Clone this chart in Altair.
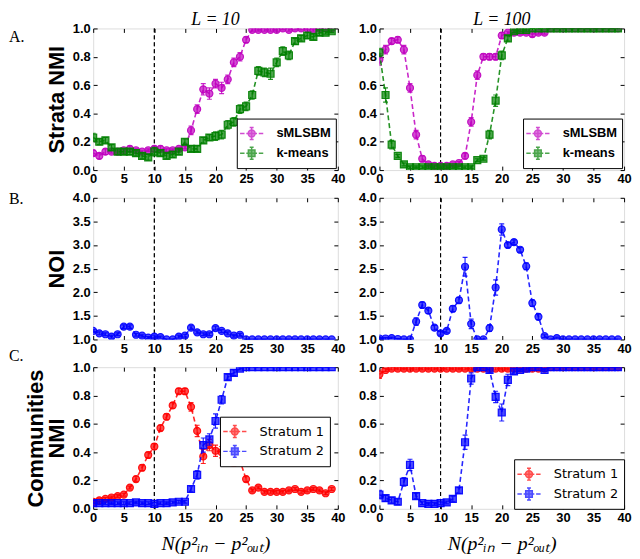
import altair as alt
import pandas as pd

# ---------------- data ----------------
x_vals = list(range(40))
x_ticks = [0, 5, 10, 15, 20, 25, 30, 35, 40]
nmi_ticks = [0.0, 0.2, 0.4, 0.6, 0.8, 1.0]
noi_ticks = [1.0, 1.5, 2.0, 2.5, 3.0, 3.5, 4.0]
threshold_x = 10

strata_names = ["sMLSBM", "k-means"]
comm_names = ["Stratum 1", "Stratum 2"]
col_titles = ["L = 10", "L = 100"]
row_labels = ["A.", "B.", "C."]
row_titles = ["Strata NMI", "NOI", ["Communities", "NMI"]]
x_title = "N(p²ᵢₙ − p²ₒᵤₜ)"

# A. strata NMI, L=10
a10_smlsbm = [0.12, 0.10, 0.13, 0.13, 0.13, 0.14, 0.15, 0.14, 0.13, 0.14,
              0.15, 0.15, 0.14, 0.14, 0.15, 0.16, 0.28, 0.43, 0.57, 0.54,
              0.61, 0.58, 0.64, 0.76, 0.80, 0.92, 0.99, 0.99, 0.99, 0.99,
              0.99, 1.00, 0.99, 1.00, 1.00, 1.00, 0.99, 1.00, 1.00, 1.00]
a10_smlsbm_err = [0.02, 0.02, 0.02, 0.01, 0.01, 0.01, 0.02, 0.01, 0.01, 0.01,
                  0.02, 0.02, 0.01, 0.01, 0.01, 0.01, 0.03, 0.03, 0.04, 0.04,
                  0.03, 0.04, 0.03, 0.03, 0.03, 0.02, 0.01, 0.01, 0.01, 0.01,
                  0.01, 0.01, 0.01, 0.01, 0.01, 0.01, 0.01, 0.01, 0.01, 0.01]
a10_kmeans = [0.23, 0.20, 0.21, 0.16, 0.13, 0.13, 0.13, 0.12, 0.10, 0.09,
              0.13, 0.12, 0.10, 0.11, 0.13, 0.20, 0.15, 0.15, 0.21, 0.23,
              0.24, 0.25, 0.32, 0.34, 0.43, 0.45, 0.53, 0.70, 0.69, 0.68,
              0.76, 0.84, 0.81, 0.91, 0.93, 0.95, 0.94, 0.97, 0.97, 0.98]
a10_kmeans_err = [0.03, 0.02, 0.02, 0.02, 0.02, 0.02, 0.02, 0.02, 0.02, 0.02,
                  0.03, 0.02, 0.02, 0.02, 0.02, 0.02, 0.02, 0.02, 0.02, 0.02,
                  0.03, 0.03, 0.03, 0.03, 0.03, 0.03, 0.03, 0.03, 0.03, 0.04,
                  0.03, 0.03, 0.03, 0.02, 0.02, 0.02, 0.02, 0.02, 0.01, 0.01]

# A. strata NMI, L=100
a100_smlsbm = [0.78, 0.85, 0.91, 0.92, 0.85, 0.58, 0.25, 0.08, 0.04, 0.03,
               0.03, 0.03, 0.04, 0.05, 0.10, 0.34, 0.67, 0.80, 0.80, 0.80,
               0.95, 0.97, 0.97, 0.97, 0.97, 0.96, 0.97, 0.97, 1.00, 1.00,
               1.00, 1.00, 1.00, 1.00, 1.00, 1.00, 1.00, 1.00, 1.00, 1.00]
a100_smlsbm_err = [0.04, 0.03, 0.02, 0.02, 0.03, 0.03, 0.03, 0.02, 0.01, 0.01,
                   0.01, 0.01, 0.01, 0.01, 0.02, 0.03, 0.03, 0.02, 0.02, 0.02,
                   0.02, 0.01, 0.01, 0.01, 0.01, 0.02, 0.01, 0.01, 0.00, 0.00,
                   0.00, 0.00, 0.00, 0.00, 0.00, 0.00, 0.00, 0.00, 0.00, 0.00]
a100_kmeans = [0.83, 0.53, 0.18, 0.10, 0.04, 0.02, 0.02, 0.02, 0.02, 0.02,
               0.02, 0.02, 0.02, 0.02, 0.02, 0.02, 0.07, 0.08, 0.25, 0.49,
               0.81, 0.93, 0.98, 0.99, 0.99, 1.00, 1.00, 1.00, 1.00, 1.00,
               1.00, 1.00, 1.00, 1.00, 1.00, 1.00, 1.00, 1.00, 1.00, 1.00]
a100_kmeans_err = [0.03, 0.05, 0.03, 0.01, 0.01, 0.01, 0.01, 0.01, 0.01, 0.01,
                   0.01, 0.01, 0.01, 0.01, 0.01, 0.01, 0.01, 0.01, 0.03, 0.04,
                   0.03, 0.02, 0.01, 0.01, 0.01, 0.00, 0.00, 0.00, 0.00, 0.00,
                   0.00, 0.00, 0.00, 0.00, 0.00, 0.00, 0.00, 0.00, 0.00, 0.00]

# B. NOI
b10_noi = [1.18, 1.13, 1.11, 1.06, 1.11, 1.27, 1.27, 1.10, 1.08, 1.04,
           1.06, 1.05, 1.00, 1.00, 1.06, 1.08, 1.25, 1.15, 1.11, 1.11,
           1.24, 1.18, 1.13, 1.08, 1.10, 1.00, 1.00, 1.00, 1.00, 1.00,
           1.00, 1.00, 1.00, 1.00, 1.00, 1.00, 1.00, 1.00, 1.00, 1.00]
b10_noi_err = [0.03, 0.03, 0.03, 0.03, 0.03, 0.04, 0.04, 0.03, 0.03, 0.02,
               0.03, 0.02, 0.01, 0.01, 0.03, 0.03, 0.04, 0.03, 0.03, 0.03,
               0.04, 0.03, 0.03, 0.03, 0.03, 0.00, 0.00, 0.00, 0.00, 0.00,
               0.00, 0.00, 0.00, 0.00, 0.00, 0.00, 0.00, 0.00, 0.00, 0.00]
b100_noi = [1.02, 1.02, 1.03, 1.01, 1.00, 1.00, 1.38, 1.73, 1.61, 1.25,
            1.13, 1.18, 1.65, 1.83, 2.54, 1.33, 1.00, 1.00, 1.24, 2.10,
            3.33, 3.00, 3.06, 2.90, 2.55, 1.77, 1.48, 1.07, 1.00, 1.03,
            1.00, 1.00, 1.00, 1.00, 1.00, 1.00, 1.00, 1.00, 1.00, 1.00]
b100_noi_err = [0.02, 0.02, 0.02, 0.01, 0.00, 0.00, 0.08, 0.06, 0.06, 0.05,
                0.04, 0.04, 0.06, 0.06, 0.20, 0.10, 0.00, 0.00, 0.07, 0.16,
                0.12, 0.05, 0.05, 0.05, 0.07, 0.07, 0.06, 0.03, 0.00, 0.02,
                0.00, 0.00, 0.00, 0.00, 0.00, 0.00, 0.00, 0.00, 0.00, 0.00]

# C. communities NMI, L=10
c10_s1 = [0.05, 0.06, 0.07, 0.08, 0.09, 0.10, 0.15, 0.21, 0.29, 0.38,
          0.44, 0.57, 0.65, 0.73, 0.83, 0.83, 0.72, 0.55, 0.37, 0.45,
          0.41, 0.40, 0.37, 0.34, 0.34, 0.21, 0.13, 0.15, 0.12, 0.12,
          0.12, 0.12, 0.13, 0.14, 0.12, 0.13, 0.14, 0.13, 0.11, 0.14]
c10_s1_err = [0.01, 0.01, 0.01, 0.01, 0.01, 0.01, 0.01, 0.02, 0.02, 0.02,
              0.02, 0.02, 0.02, 0.02, 0.02, 0.02, 0.03, 0.04, 0.05, 0.04,
              0.04, 0.04, 0.04, 0.04, 0.03, 0.02, 0.01, 0.01, 0.01, 0.01,
              0.01, 0.01, 0.01, 0.01, 0.01, 0.01, 0.01, 0.01, 0.01, 0.01]
c10_s2 = [0.04, 0.04, 0.04, 0.04, 0.04, 0.04, 0.04, 0.045, 0.04, 0.04,
          0.035, 0.04, 0.04, 0.045, 0.05, 0.05, 0.14, 0.24, 0.45, 0.49,
          0.62, 0.77, 0.93, 0.96, 0.99, 1.00, 1.00, 1.00, 1.00, 1.00,
          1.00, 1.00, 1.00, 1.00, 1.00, 1.00, 1.00, 1.00, 1.00, 1.00]
c10_s2_err = [0.02, 0.01, 0.01, 0.01, 0.01, 0.01, 0.01, 0.01, 0.01, 0.01,
              0.01, 0.01, 0.01, 0.01, 0.01, 0.01, 0.02, 0.03, 0.05, 0.04,
              0.05, 0.03, 0.02, 0.02, 0.01, 0.00, 0.00, 0.00, 0.00, 0.00,
              0.00, 0.00, 0.00, 0.00, 0.00, 0.00, 0.00, 0.00, 0.00, 0.00]

# C. communities NMI, L=100
c100_s1 = [0.95, 0.98, 0.99, 0.99, 0.99, 0.99, 0.99, 0.99, 0.99, 0.99,
           0.99, 0.99, 0.99, 0.99, 0.99, 0.99, 0.99, 0.99, 0.99, 0.99,
           0.99, 0.99, 0.99, 0.99, 0.99, 0.99, 0.99, 0.99, 1.00, 1.00,
           1.00, 1.00, 1.00, 1.00, 1.00, 1.00, 1.00, 1.00, 1.00, 1.00]
c100_s1_err = [0.03, 0.01, 0.01, 0.01, 0.01, 0.01, 0.01, 0.01, 0.01, 0.01,
               0.01, 0.01, 0.01, 0.01, 0.01, 0.01, 0.01, 0.01, 0.01, 0.01,
               0.01, 0.01, 0.01, 0.01, 0.01, 0.01, 0.01, 0.01, 0.00, 0.00,
               0.00, 0.00, 0.00, 0.00, 0.00, 0.00, 0.00, 0.00, 0.00, 0.00]
c100_s2 = [0.10, 0.075, 0.06, 0.05, 0.19, 0.31, 0.09, 0.04, 0.035, 0.035,
           0.04, 0.045, 0.07, 0.13, 0.47, 0.92, 1.00, 1.00, 0.98, 0.79,
           0.68, 0.91, 0.97, 0.98, 0.99, 1.00, 1.00, 0.98, 1.00, 1.00,
           1.00, 1.00, 1.00, 1.00, 1.00, 1.00, 1.00, 1.00, 1.00, 1.00]
c100_s2_err = [0.03, 0.02, 0.02, 0.02, 0.03, 0.04, 0.02, 0.01, 0.01, 0.01,
               0.01, 0.01, 0.02, 0.02, 0.05, 0.04, 0.00, 0.00, 0.02, 0.04,
               0.06, 0.04, 0.02, 0.01, 0.01, 0.00, 0.00, 0.01, 0.00, 0.00,
               0.00, 0.00, 0.00, 0.00, 0.00, 0.00, 0.00, 0.00, 0.00, 0.00]

# ---------------- styling ----------------
MAGENTA = "#bf00bf"
GREEN = "#008000"
BLUE = "#0000ff"
RED = "#ff0000"
SANS = "Liberation Sans"
SERIF = "Liberation Serif"

W, H = 247, 143

# legend symbols: dashed line + error bar + marker
DASH = "M-1.3,0H-0.8M-0.6,0H0.6M0.8,0H1.3"
EBAR = "M0,-0.67V0.67M-0.22,-0.67H0.22M-0.22,0.67H0.22"
CIRC = "M-0.39,0A0.39,0.39,0,1,0,0.39,0A0.39,0.39,0,1,0,-0.39,0Z"
SQR = "M-0.37,-0.37H0.37V0.37H-0.37Z"
LEG_CIRCLE = DASH + EBAR + CIRC
LEG_SQUARE = DASH + EBAR + SQR

XS = alt.Scale(domain=[0, 40], nice=False, zero=False)


def axis_x(orient, title=None, labels=True):
    kw = dict(orient=orient, values=x_ticks, format="d", offset=-4, tickSize=4,
              tickColor="black", tickWidth=1, domain=False, grid=False,
              labels=labels, labelPadding=3, labelFont=SANS, labelFontSize=13,
              labelFontWeight="bold", labelColor="black", labelFlush=False,
              labelOverlap=False)
    if not labels:
        kw.update(minExtent=0, maxExtent=0)
    if title is not None:
        kw.update(title=title, titleFont=SERIF, titleFontSize=20,
                  titleFontStyle="italic", titleFontWeight="normal",
                  titleColor="black", titlePadding=9)
    else:
        kw.update(title=None)
    return alt.Axis(**kw)


def axis_y(orient, ticks, title=None, labels=True):
    kw = dict(orient=orient, values=ticks, format=".1f", offset=-4, tickSize=4,
              tickColor="black", tickWidth=1, domain=False, grid=False,
              labels=labels, labelPadding=3, labelFont=SANS, labelFontSize=13,
              labelFontWeight="bold", labelColor="black", labelFlush=False,
              labelOverlap=False)
    if not labels:
        kw.update(minExtent=0, maxExtent=0)
    if title is not None:
        kw.update(title=title, titleFont=SANS, titleFontSize=22,
                  titleFontWeight="bold", titleColor="black", titlePadding=4,
                  titleLineHeight=21)
    else:
        kw.update(title=None)
    return alt.Axis(**kw)


def series_layers(vals, errs, color, shape, ys):
    df = pd.DataFrame({
        "x": x_vals,
        "y": vals,
        "lo": [v - e for v, e in zip(vals, errs)],
        "hi": [v + e for v, e in zip(vals, errs)],
    })
    base = alt.Chart(df)
    X = alt.X("x:Q", scale=XS, axis=None)
    line = base.mark_line(color=color, strokeDash=[5, 3], strokeWidth=1.6,
                          opacity=0.85, clip=True).encode(
        x=X, y=alt.Y("y:Q", scale=ys, axis=None))
    err = base.mark_rule(color=color, strokeWidth=1.2, opacity=0.85, clip=True).encode(
        x=X, y=alt.Y("lo:Q", scale=ys, axis=None), y2="hi:Q")
    cap_hi = base.mark_tick(color=color, orient="horizontal", size=5, thickness=1.2,
                            opacity=0.85, clip=True).encode(
        x=X, y=alt.Y("hi:Q", scale=ys, axis=None))
    cap_lo = base.mark_tick(color=color, orient="horizontal", size=5, thickness=1.2,
                            opacity=0.85, clip=True).encode(
        x=X, y=alt.Y("lo:Q", scale=ys, axis=None))
    pts = base.mark_point(filled=True, shape=shape, size=50, fill=color, stroke=color,
                          fillOpacity=0.7, strokeOpacity=0.9, strokeWidth=1.2,
                          clip=True).encode(
        x=X, y=alt.Y("y:Q", scale=ys, axis=None))
    return [line, err, cap_lo, cap_hi, pts]


def legend_layer(names, colors, legend):
    df = pd.DataFrame({"series": names})
    return alt.Chart(df).transform_filter("false").mark_point(filled=True).encode(
        fill=alt.Fill("series:N", scale=alt.Scale(domain=names, range=colors), legend=legend),
        stroke=alt.Stroke("series:N", scale=alt.Scale(domain=names, range=colors), legend=legend),
        shape=alt.Shape("series:N", scale=alt.Scale(domain=names, range=[LEG_CIRCLE, LEG_SQUARE]),
                        legend=legend),
    )


def make_legend(orient, label_font, label_weight, **pos):
    return alt.Legend(title=None, orient=orient, strokeColor="black", fillColor="white",
                      padding=5, cornerRadius=0, labelFont=label_font, labelFontSize=13,
                      labelFontWeight=label_weight, labelColor="black", symbolSize=324,
                      symbolStrokeWidth=1.5, labelOffset=15, rowPadding=0, **pos)


def panel(series, ydomain, yticks, ytitle=None, xtitle=None, title=None,
          label=None, label_y=0, legend_names=None, legend_colors=None, legend=None):
    ys = alt.Scale(domain=ydomain, nice=False, zero=False)
    frame_df = pd.DataFrame({"x": [0, 40], "y": ydomain})
    layers = []
    layers.append(alt.Chart(frame_df).mark_rule(color="black", strokeDash=[4, 3],
                                                  strokeWidth=1).encode(
        x=alt.X(datum=threshold_x, type="quantitative", scale=XS, axis=None)))
    for vals, errs, color, shape in series:
        layers += series_layers(vals, errs, color, shape, ys)
    layers.append(alt.Chart(frame_df).mark_point(opacity=0).encode(
        x=alt.X("x:Q", scale=XS, axis=axis_x("bottom", xtitle)),
        y=alt.Y("y:Q", scale=ys, axis=axis_y("left", yticks, ytitle))))
    layers.append(alt.Chart(frame_df).mark_point(opacity=0).encode(
        x=alt.X("x:Q", scale=XS, axis=axis_x("top", None, labels=False)),
        y=alt.Y("y:Q", scale=ys, axis=axis_y("right", yticks, None, labels=False))))
    if legend is not None:
        layers.append(legend_layer(legend_names, legend_colors, legend))
    if label is not None:
        layers.append(alt.Chart(pd.DataFrame({"t": [label]})).mark_text(
            align="left", baseline="middle", font=SERIF, fontSize=16, color="black").encode(
            x=alt.value(-85), y=alt.value(label_y), text="t:N"))
    ch = alt.layer(*layers).resolve_axis(x="independent", y="independent")
    props = dict(width=W, height=H)
    if title is not None:
        props["title"] = alt.TitleParams(title, font=SERIF, fontSize=18, fontStyle="italic",
                                         fontWeight="normal", color="black", offset=-7)
    return ch.properties(**props)


RES = dict(x="independent", y="independent", fill="independent",
           stroke="independent", shape="independent")

leg_a = make_legend("bottom-right", SANS, "bold", offset=2)
leg_c1 = make_legend("none", "DejaVu Sans", "normal", legendX=128, legendY=50)
leg_c2 = make_legend("bottom-right", "DejaVu Sans", "normal", offset=0)

panels = [
    panel([(a10_smlsbm, a10_smlsbm_err, MAGENTA, "circle"),
           (a10_kmeans, a10_kmeans_err, GREEN, "square")],
          [0, 1], nmi_ticks, ytitle=row_titles[0], title=col_titles[0],
          label=row_labels[0], label_y=9,
          legend_names=strata_names, legend_colors=[MAGENTA, GREEN], legend=leg_a),
    panel([(a100_smlsbm, a100_smlsbm_err, MAGENTA, "circle"),
           (a100_kmeans, a100_kmeans_err, GREEN, "square")],
          [0, 1], nmi_ticks, title=col_titles[1],
          legend_names=strata_names, legend_colors=[MAGENTA, GREEN], legend=leg_a),
    panel([(b10_noi, b10_noi_err, BLUE, "circle")], [1, 4], noi_ticks,
          ytitle=row_titles[1], label=row_labels[1], label_y=1),
    panel([(b100_noi, b100_noi_err, BLUE, "circle")], [1, 4], noi_ticks),
    panel([(c10_s1, c10_s1_err, RED, "circle"), (c10_s2, c10_s2_err, BLUE, "square")],
          [0, 1], nmi_ticks, ytitle=row_titles[2], xtitle=x_title,
          label=row_labels[2], label_y=-11,
          legend_names=comm_names, legend_colors=[RED, BLUE], legend=leg_c1),
    panel([(c100_s1, c100_s1_err, RED, "circle"), (c100_s2, c100_s2_err, BLUE, "square")],
          [0, 1], nmi_ticks, xtitle=x_title,
          legend_names=comm_names, legend_colors=[RED, BLUE], legend=leg_c2),
]

chart = alt.concat(*panels, columns=2, spacing=alt.RowColnumber(row=28, column=42),
                   bounds="flush").resolve_scale(**RES).properties(
    padding=0
).configure_view(stroke="black", strokeWidth=1).configure(background="white")

chart.save("out.html", embed_options={"renderer": "svg", "actions": False})
